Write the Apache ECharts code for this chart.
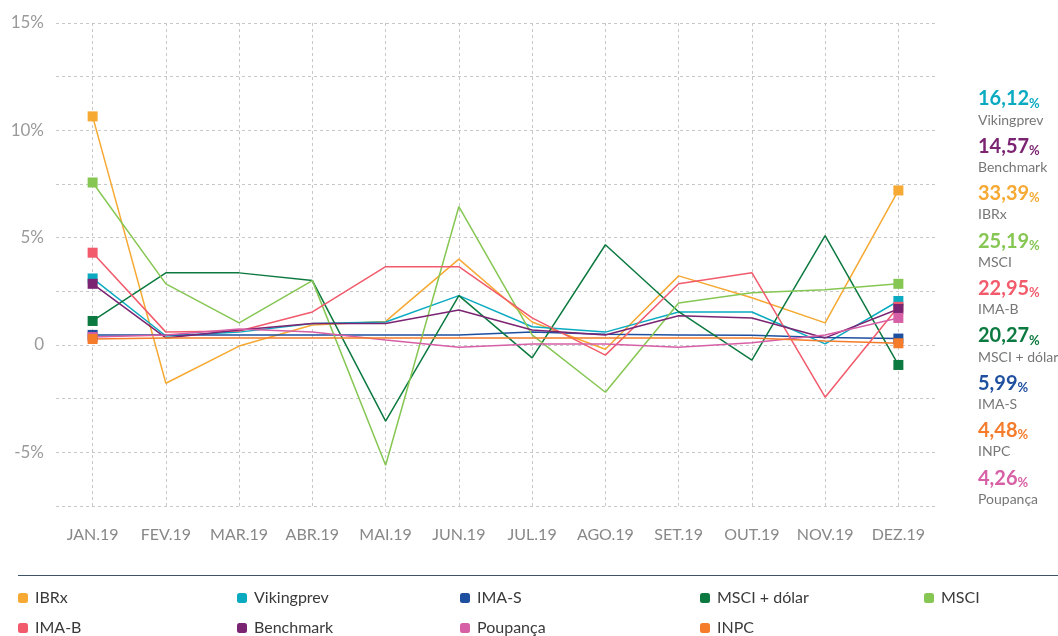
<!DOCTYPE html>
<html>
<head>
<meta charset="utf-8">
<script src="https://cdn.jsdelivr.net/npm/echarts@6/dist/echarts.min.js"></script>
<style>
  html, body { margin: 0; padding: 0; background: #fff; }
  #chart { width: 1058px; height: 636px; }
</style>
</head>
<body>
<div id="chart"></div>
<script>
// meses
var months = ['JAN.19', 'FEV.19', 'MAR.19', 'ABR.19', 'MAI.19', 'JUN.19',
              'JUL.19', 'AGO.19', 'SET.19', 'OUT.19', 'NOV.19', 'DEZ.19'];

// rentabilidade mensal (%)
var ibrx       = [10.65, -1.78, -0.05, 0.93, 1.1, 4.0, 1.07, -0.2, 3.22, 2.2, 1.03, 7.2];
var vikingprev = [3.1, 0.42, 0.6, 1.0, 1.07, 2.3, 0.85, 0.6, 1.54, 1.54, 0.05, 2.05];
var imaS       = [0.47, 0.47, 0.47, 0.47, 0.47, 0.47, 0.6, 0.5, 0.47, 0.45, 0.35, 0.3];
var msciDolar  = [1.12, 3.36, 3.36, 3.0, -3.55, 2.3, -0.6, 4.67, 1.55, -0.7, 5.1, -0.93];
var msci       = [7.57, 2.85, 1.03, 3.0, -5.6, 6.45, 0.47, -2.2, 1.96, 2.43, 2.57, 2.85];
var imaB       = [4.3, 0.6, 0.65, 1.54, 3.65, 3.65, 1.26, -0.47, 2.85, 3.37, -2.43, 1.78];
var benchmark  = [2.85, 0.33, 0.7, 1.0, 1.0, 1.63, 0.7, 0.47, 1.36, 1.26, 0.33, 1.68];
var poupanca   = [0.37, 0.47, 0.75, 0.6, 0.23, -0.1, 0.05, 0.05, -0.1, 0.1, 0.47, 1.26];
var inpc       = [0.28, 0.33, 0.33, 0.33, 0.33, 0.33, 0.33, 0.33, 0.33, 0.33, 0.19, 0.08];

// acumulado no ano (lado direito)
var sideNames  = ['Vikingprev', 'Benchmark', 'IBRx', 'MSCI', 'IMA-B', 'MSCI + dólar', 'IMA-S', 'INPC', 'Poupança'];
var sideTotals = ['16,12', '14,57', '33,39', '25,19', '22,95', '20,27', '5,99', '4,48', '4,26'];

// colunas da legenda
var legendCols = [['IBRx', 'IMA-B'], ['Vikingprev', 'Benchmark'], ['IMA-S', 'Poupança'], ['MSCI + dólar', 'INPC'], ['MSCI']];

var colors = {
  'IBRx': '#f6a933',
  'Vikingprev': '#0aabc1',
  'IMA-S': '#1f4f9f',
  'MSCI + dólar': '#0c7a40',
  'MSCI': '#86c653',
  'IMA-B': '#f15b6c',
  'Benchmark': '#7b2472',
  'Poupança': '#d75fa6',
  'INPC': '#f47c2b'
};

var seriesData = [
  ['IBRx', ibrx], ['Vikingprev', vikingprev], ['IMA-S', imaS],
  ['MSCI + dólar', msciDolar], ['MSCI', msci], ['IMA-B', imaB],
  ['Benchmark', benchmark], ['Poupança', poupanca], ['INPC', inpc]
];

var FONT = 'Lato, "Noto Sans", sans-serif';
var myChart = echarts.init(document.getElementById('chart'));

// linhas verticais tracejadas nos meses (série vazia, atrás das outras)
var series = [{
  name: 'grade',
  type: 'line',
  data: [],
  z: 0,
  silent: true,
  markLine: {
    z: 0,
    silent: true,
    symbol: ['none', 'none'],
    label: { show: false },
    lineStyle: { color: '#c8c8c8', type: [3, 3], width: 1 },
    data: months.map(function (m) { return { xAxis: m }; })
  }
}];

seriesData.forEach(function (s) {
  series.push({
    name: s[0],
    type: 'line',
    data: s[1],
    color: colors[s[0]],
    z: 3,
    lineStyle: { width: 1.5 },
    itemStyle: { borderWidth: 0 },
    symbol: function (v, p) {
      return (p.dataIndex === 0 || p.dataIndex === months.length - 1) ? 'rect' : 'none';
    },
    symbolSize: 10,
    showAllSymbol: true
  });
});

// uma legenda por item, em colunas
var colLefts = [18, 237, 460, 700, 924];
var legends = [];
legendCols.forEach(function (col, ci) {
  col.forEach(function (name, ri) {
    legends.push({
      left: colLefts[ci],
      top: 590 + ri * 30,
      itemWidth: 10,
      itemHeight: 10,
      itemGap: 0,
      icon: 'roundRect',
      data: [name],
      selectedMode: false,
      padding: 0,
      textStyle: { fontFamily: FONT, fontSize: 16, color: '#3a3a3a', padding: [0, 0, 0, 2] }
    });
  });
});

var graphics = [{
  type: 'line',
  shape: { x1: 18, y1: 575.5, x2: 1058, y2: 575.5 },
  style: { stroke: '#3e5466', lineWidth: 1 }
}];
sideNames.forEach(function (n, i) {
  var c = colors[n];
  graphics.push({
    type: 'text',
    left: 978,
    top: 89 + i * 47.4,
    style: {
      text: '{v|' + sideTotals[i] + '}{p|%}\n{n|' + n + '}',
      rich: {
        v: { fontFamily: FONT, fontSize: 20, fontWeight: 'bold', fill: c, lineHeight: 22 },
        p: { fontFamily: FONT, fontSize: 13, fontWeight: 'bold', fill: c, lineHeight: 22, verticalAlign: 'bottom' },
        n: { fontFamily: FONT, fontSize: 14, fill: '#777', lineHeight: 20 }
      }
    }
  });
});

myChart.setOption({
  animation: false,
  grid: { left: 56, right: 123, top: 23, bottom: 130 },
  legend: legends,
  graphic: graphics,
  xAxis: {
    type: 'category',
    data: months,
    boundaryGap: true,
    axisLine: { show: false },
    axisTick: { show: false },
    splitLine: { show: false },
    axisLabel: { fontFamily: FONT, fontSize: 16, color: '#888', margin: 21, interval: 0 }
  },
  yAxis: {
    type: 'value',
    min: -7.5,
    max: 15,
    interval: 2.5,
    axisLine: { show: false },
    axisTick: { show: false },
    splitLine: { lineStyle: { color: '#c8c8c8', type: [3, 3], width: 1 } },
    axisLabel: {
      fontFamily: FONT, fontSize: 17, color: '#9a9a9a', margin: 12,
      verticalAlign: 'middle',
      padding: [0, 0, 11, 0],
      formatter: function (v) {
        if (v % 5 !== 0) return '';
        return v === 0 ? '0' : v + '%';
      }
    }
  },
  series: series
});
</script>
</body>
</html>
